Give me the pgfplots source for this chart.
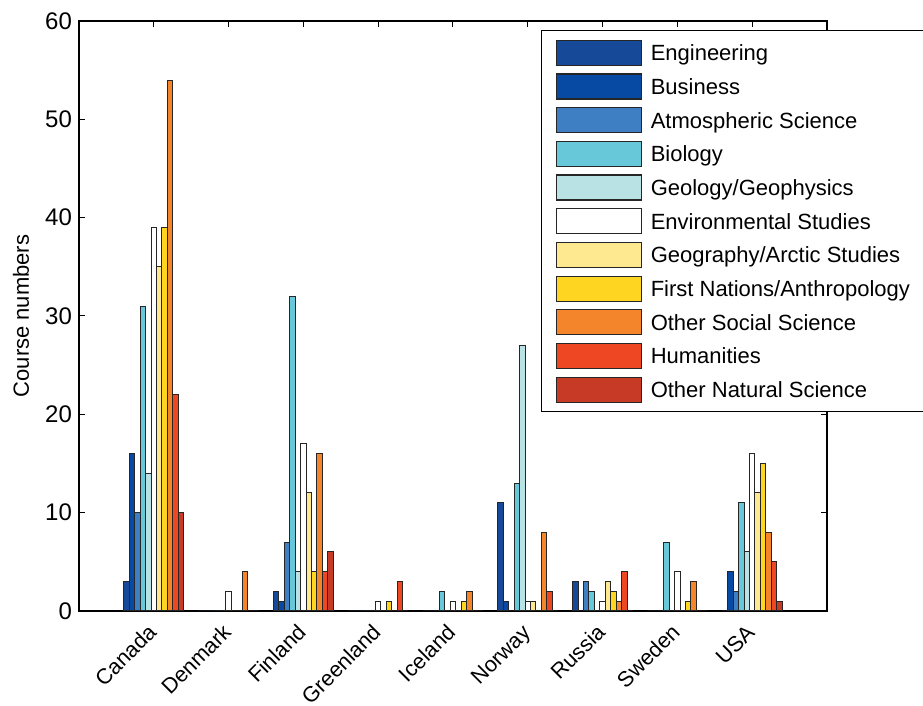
\documentclass[border=0pt]{standalone}
\usepackage{fontspec}
\setmainfont{Liberation Sans}
\usepackage{pgfplots}
\usepackage{pgfplotstable}
\pgfplotsset{compat=1.18}
\definecolor{cEng}{RGB}{22,74,152}
\definecolor{cBus}{RGB}{6,74,163}
\definecolor{cAtm}{RGB}{62,127,196}
\definecolor{cBio}{RGB}{102,200,216}
\definecolor{cGeo}{RGB}{184,226,228}
\definecolor{cEnv}{RGB}{255,255,255}
\definecolor{cGeog}{RGB}{254,233,145}
\definecolor{cFN}{RGB}{254,213,32}
\definecolor{cOSS}{RGB}{245,133,42}
\definecolor{cHum}{RGB}{238,71,36}
\definecolor{cONS}{RGB}{198,58,38}

\pgfplotstableread{
x Eng Bus Atm Bio Geo Env Geog FN OSS Hum ONS
1 3 16 10 31 14 39 35 39 54 22 10
2 0 0 0 0 0 2 0 0 4 0 0
3 2 1 7 32 4 17 12 4 16 4 6
4 0 0 0 0 0 1 0 1 0 3 0
5 0 0 0 2 0 1 0 1 2 0 0
6 11 1 0 13 27 1 1 0 8 2 0
7 3 0 3 2 0 1 3 2 1 4 0
8 0 0 0 7 0 4 0 1 3 0 0
9 0 4 2 11 6 16 12 15 8 5 1
}\data

\pgfplotsset{mybar/.style={fill=#1, draw=black!85, line width=0.5pt,
  legend image code/.code={\draw[fill=#1, draw=black!85, line width=0.6pt] (0pt,-6.25pt) rectangle (42.5pt,6.25pt);}}}

\newcommand{\lf}{\fontsize{11}{13}\selectfont}
\newcommand{\xf}{\fontsize{10.8}{13}\selectfont}
\newcommand{\yf}{\fontsize{12}{14}\selectfont}

\begin{document}
\begin{tikzpicture}
\begin{axis}[
  scale only axis, width=374pt, height=295pt,
  xmin=0, xmax=10, ymin=0, ymax=60,
  ybar=0pt, bar width=2.72pt,
  xtick={1,...,9},
  xticklabels={Canada,Denmark,Finland,Greenland,Iceland,Norway,Russia,Sweden,USA},
  ytick={0,10,...,60},
  tick align=inside,
  major tick length=3pt,
  tick style={black, line width=0.5pt},
  axis line style={black, line width=0.6pt},
  xticklabel style={xshift=2pt, yshift=-11.3pt, rotate=45, anchor=base east, font=\xf, inner sep=0pt},
  yticklabel style={font=\yf, /pgf/number format/assume math mode=true},
  ylabel={Course numbers},
  ylabel style={at={(axis description cs:-0.0775,0.5)}, anchor=center, font=\lf},
  legend cell align=left,
  legend style={at={(rel axis cs:0.6176,0.9847)}, anchor=north west,
    draw=black, line width=0.6pt, font=\lf,
    inner xsep=7pt, inner ysep=4.5pt, row sep=3.75pt, column sep=4.5pt,
    nodes={inner sep=0pt, text height=7.9pt, text depth=0pt}},
]
\addplot[mybar=cEng] table[x=x,y=Eng]{\data};
\addplot[mybar=cBus] table[x=x,y=Bus]{\data};
\addplot[mybar=cAtm] table[x=x,y=Atm]{\data};
\addplot[mybar=cBio] table[x=x,y=Bio]{\data};
\addplot[mybar=cGeo] table[x=x,y=Geo]{\data};
\addplot[mybar=cEnv] table[x=x,y=Env]{\data};
\addplot[mybar=cGeog] table[x=x,y=Geog]{\data};
\addplot[mybar=cFN] table[x=x,y=FN]{\data};
\addplot[mybar=cOSS] table[x=x,y=OSS]{\data};
\addplot[mybar=cHum] table[x=x,y=Hum]{\data};
\addplot[mybar=cONS] table[x=x,y=ONS]{\data};
\legend{Engineering,Business,Atmospheric Science,Biology,Geology/Geophysics,Environmental Studies,Geography/Arctic Studies,First Nations/Anthropology,Other Social Science,Humanities,Other Natural Science}
\end{axis}
\pgfresetboundingbox
\path[use as bounding box] (current axis.south west) ++(-39.5pt,-47.5pt) rectangle ++(461.5pt,353pt);
\end{tikzpicture}
\end{document}
